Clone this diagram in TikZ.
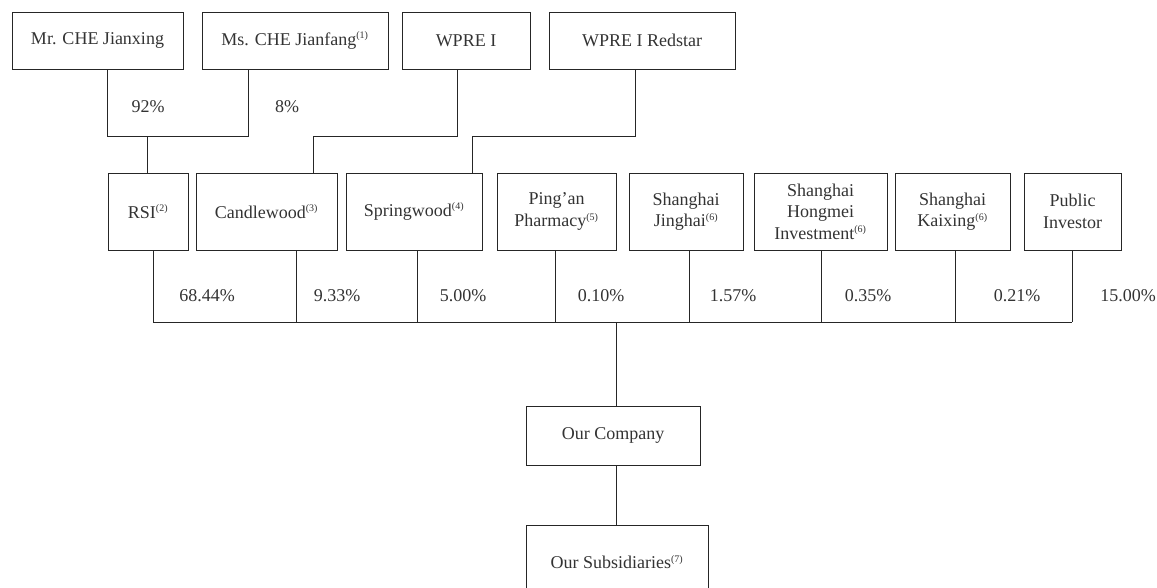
\documentclass[tikz,border=0pt]{standalone}
\usepackage{fontspec}
\setmainfont{Liberation Serif}
\usepackage{tikz}
\usetikzlibrary{
    calc,
    positioning
}
\newcommand{\fnote}[1]{\textsuperscript{\fontsize{10}{10}\selectfont(#1)}}

\begin{document}
\begin{tikzpicture}[x=1pt, y=-1pt,
    every node/.style={font=\fontsize{18}{21.5}\selectfont, text=black!80},
    box/.style={draw=black!85, line width=1pt, inner sep=0pt, align=center, minimum height=57pt},
    midbox/.style={box, minimum height=77pt},
    link/.style={draw=black!85, line width=1pt}]
                        \useasboundingbox (0,0) rectangle (1157,587);
                        \node[box, minimum width=171pt] (jianxing) at (97.5, 40.5) {Mr. CHE Jianxing};
                        \node[box, minimum width=186pt] (jianfang) at (295, 40.5) {Ms. CHE Jianfang\fnote{1}};
                        \node[box, minimum width=128pt] (wpre) at (466, 40.5) {WPRE I};
                        \node[box, minimum width=186pt] (redstar) at (642, 40.5) {WPRE I Redstar};
                        \node[midbox, minimum width=80pt] (rsi) at (148, 211.5) {RSI\fnote{2}};
                        \node[midbox, minimum width=141pt] (candle) at (266.5, 211.5) {Candlewood\fnote{3}};
                        \node[midbox, minimum width=136pt] (spring) at (414, 211.5) {Springwood\fnote{4}};
                        \node[midbox, minimum width=119pt] (pingan) at (556.5, 211.5) {Ping’an\\Pharmacy\fnote{5}};
                        \node[midbox, minimum width=114pt] (jinghai) at (686, 211.5) {Shanghai\\Jinghai\fnote{6}};
                        \node[midbox, minimum width=133pt] (hongmei) at (820.5, 211.5) {Shanghai\\Hongmei\\Investment\fnote{6}};
                        \node[midbox, minimum width=115pt] (kaixing) at (952.5, 211.5) {Shanghai\\Kaixing\fnote{6}};
                        \node[midbox, minimum width=97pt] (public) at (1072.5, 211.5) {Public\\Investor};
                        \node[box, minimum width=174pt, minimum height=59pt] (company) at (613, 435.5) {Our Company};
                        \node[box, minimum width=182pt, minimum height=74pt] (subs) at (617, 562) {Our Subsidiaries\fnote{7}};
                        % joints above the middle row
                        \coordinate (cheL) at (107, 136);
                        \coordinate (cheR) at (248, 136);
                        \coordinate (cheM) at (147, 136);
                        \coordinate (wpreA) at (457, 136);
                        \coordinate (wpreB) at (313, 136);
                        \coordinate (redA) at (635, 136);
                        \coordinate (redB) at (472, 136);
                        \coordinate (busco) at (616, 322);
                        \draw[link] (jianxing.south -| cheL) -- (cheL) -- (cheR) -- (jianfang.south -| cheR);
                        \draw[link] (cheM) -- (rsi.north -| cheM);
                        \draw[link] (wpre.south -| wpreA) -- (wpreA) -- (wpreB) -- (candle.north -| wpreB);
                        \draw[link] (redstar.south -| redA) -- (redA) -- (redB) -- (spring.north -| redB);
                        \node at (148, 107) {92\%};
                        \node at (287, 107) {8\%};
                        % shareholders of our company
                        \foreach \n/\x/\p/\px in {rsi/153/68.44/207, candle/296/9.33/337, spring/417/5.00/463,
                                pingan/555/0.10/601, jinghai/689/1.57/733, hongmei/821/0.35/868,
                                kaixing/955/0.21/1017, public/1072/15.00/1128} {
                            \coordinate (bus\n) at (\x, 322);
                            \draw[link] (\n.south -| bus\n) -- (bus\n);
                            \node (pct\n) at (\px, 296) {\p\%};
                        }
                        \draw[link] (busrsi) -- (buspublic);
                        \draw[link] (busco) -- (company.north -| busco);
                        \draw[link] (company.south -| busco) -- (subs.north -| busco);
                    \end{tikzpicture}
\end{document}
